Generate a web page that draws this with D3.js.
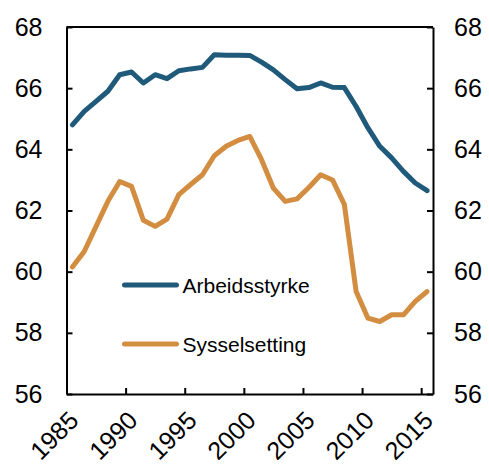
<!DOCTYPE html>
<html>
<head>
<meta charset="utf-8">
<script src="https://cdnjs.cloudflare.com/ajax/libs/d3/7.8.5/d3.min.js"></script>
<style>
  body { margin: 0; background: #fff; }
  text { font-family: "Liberation Sans", Arial, sans-serif; fill: #000; }
</style>
</head>
<body>
<div class="chart"></div>
<script>
// years and series (percent of population)
var years = d3.range(1985, 2016);
var arbeidsstyrke = [64.8, 65.24, 65.57, 65.9, 66.44, 66.53, 66.17, 66.44, 66.31, 66.57, 66.63,
  66.68, 67.09, 67.08, 67.08, 67.07, 66.85, 66.6, 66.28, 65.98, 66.02, 66.17, 66.03, 66.02,
  65.4, 64.7, 64.1, 63.72, 63.28, 62.9, 62.65];
var sysselsetting = [60.15, 60.66, 61.48, 62.3, 62.95, 62.79, 61.68, 61.48, 61.72, 62.52, 62.85,
  63.17, 63.79, 64.1, 64.29, 64.42, 63.66, 62.73, 62.3, 62.38, 62.75, 63.17, 63.0, 62.2,
  59.35, 58.48, 58.37, 58.59, 58.59, 59.03, 59.35];
var yTicks = [56, 58, 60, 62, 64, 66, 68];
var xTicks = [1985, 1990, 1995, 2000, 2005, 2010, 2015];
var seriesNames = ["Arbeidsstyrke", "Sysselsetting"];
var colors = ["#1f5a7a", "#d38d41"];

var svgWidth = 489, svgHeight = 465;
var margin = {top: 27, right: 56, bottom: 71, left: 66.5};
var width = svgWidth - margin.left - margin.right;
var height = svgHeight - margin.top - margin.bottom;

var svg = d3.select(".chart").append("svg").attr("width", svgWidth).attr("height", svgHeight);
var g = svg.append("g").attr("transform", `translate(${margin.left}, ${margin.top})`);

var x = d3.scaleLinear().domain([1985, 2016]).range([0, width]);
var y = d3.scaleLinear().domain([56, 68]).range([height, 0]);

// axes, ticks pointing inward
var leftAxis = d3.axisLeft(y).tickValues(yTicks).tickSizeInner(-6).tickSizeOuter(0).tickPadding(24);
var rightAxis = d3.axisRight(y).tickValues(yTicks).tickSizeInner(-6).tickSizeOuter(0).tickPadding(21);
var bottomAxis = d3.axisBottom(x).tickValues(xTicks).tickSizeInner(-6).tickSizeOuter(0).tickFormat(d3.format("d"));

function styleAxis(sel) {
  sel.select(".domain").attr("stroke", "#000").attr("stroke-width", 2);
  sel.selectAll(".tick line").attr("stroke", "#000").attr("stroke-width", 2);
  sel.selectAll("text").attr("font-size", 25).attr("font-family", "Liberation Sans, Arial, sans-serif");
}

var gl = g.append("g").call(leftAxis).call(styleAxis);
var gr = g.append("g").attr("transform", `translate(${width},0)`).call(rightAxis).call(styleAxis);
gr.selectAll("text").attr("text-anchor", "start");
var gb = g.append("g").attr("transform", `translate(0,${height})`).call(bottomAxis).call(styleAxis);
gb.selectAll("text")
  .attr("text-anchor", "end")
  .attr("y", 0).attr("dy", 0)
  .attr("transform", "translate(13,28) rotate(-45)");

// top border
g.append("line").attr("x1", 0).attr("x2", width).attr("y1", 0).attr("y2", 0)
  .attr("stroke", "#000").attr("stroke-width", 2);

// lines
var line = d3.line().x((d, i) => x(years[i] + 0.5)).y(d => y(d));
[arbeidsstyrke, sysselsetting].forEach(function(s, k) {
  g.append("path").datum(s)
    .attr("fill", "none").attr("stroke", colors[k]).attr("stroke-width", 5)
    .attr("stroke-linejoin", "round").attr("stroke-linecap", "round")
    .attr("d", line);
});

// legend
var legY = [258, 317];
seriesNames.forEach(function(n, k) {
  g.append("line").attr("x1", 58).attr("x2", 110).attr("y1", legY[k]).attr("y2", legY[k])
    .attr("stroke", colors[k]).attr("stroke-width", 5).attr("stroke-linecap", "round");
  g.append("text").attr("x", 116).attr("y", legY[k] + 7.5).attr("font-size", 21).text(n);
});
</script>
</body>
</html>
